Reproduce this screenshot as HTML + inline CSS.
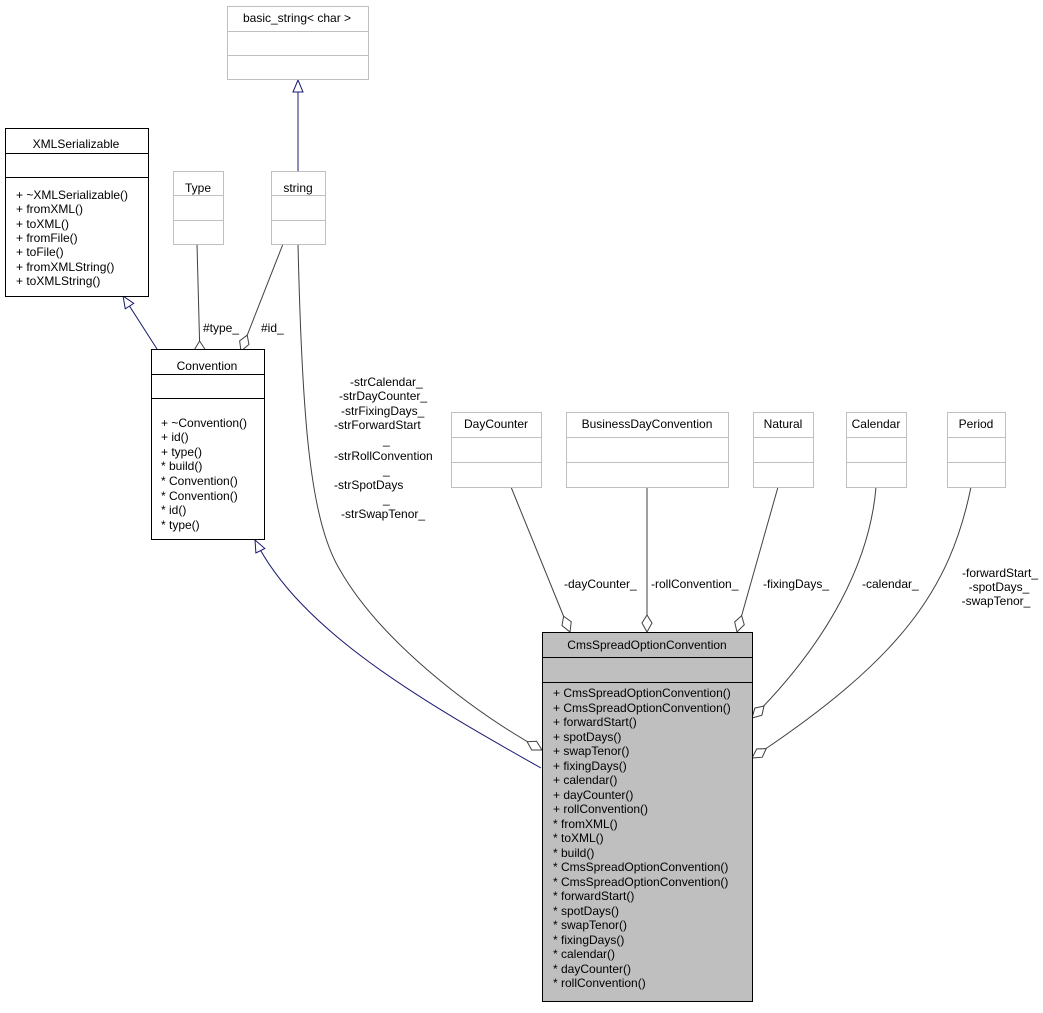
<!DOCTYPE html>
<html><head><meta charset="utf-8"><style>
body{margin:0;background:#fff}
svg text{font-family:"Liberation Sans",sans-serif;font-size:12px;fill:#000}
</style></head><body>
<svg width="1043" height="1008" xmlns="http://www.w3.org/2000/svg">
<defs>
<marker id="tri" markerWidth="14" markerHeight="14" refX="13" refY="6" orient="auto" markerUnits="userSpaceOnUse"><path d="M1,1 L13,6 L1,11 Z" fill="#fff" stroke="#191970" stroke-width="1"/></marker>
<marker id="dia" markerWidth="20" markerHeight="12" refX="18" refY="6" orient="auto" markerUnits="userSpaceOnUse"><path d="M1,6 L9,1 L18,6 L9,11 Z" fill="#fff" stroke="#404040" stroke-width="1"/></marker>
</defs>
<g fill="none" stroke-width="1">
<line x1="298" y1="171" x2="298" y2="80" stroke="#191970" marker-end="url(#tri)"/>
<line x1="157" y1="349" x2="123" y2="296" stroke="#191970" marker-end="url(#tri)"/>
<path d="M541,768 C420,700 300,630 255,540" stroke="#191970" marker-end="url(#tri)"/>
<line x1="197" y1="244" x2="200" y2="358" stroke="#404040" marker-end="url(#dia)"/>
<line x1="283" y1="244" x2="241" y2="351" stroke="#404040" marker-end="url(#dia)"/>
<path d="M298,244 C302,420 310,520 340,570 C380,640 470,710 542,750" stroke="#404040" marker-end="url(#dia)"/>
<line x1="511" y1="487" x2="570" y2="632" stroke="#404040" marker-end="url(#dia)"/>
<line x1="647" y1="487" x2="647" y2="632" stroke="#404040" marker-end="url(#dia)"/>
<line x1="778" y1="487" x2="737" y2="632" stroke="#404040" marker-end="url(#dia)"/>
<path d="M876,487 C870,560 830,640 752,718" stroke="#404040" marker-end="url(#dia)"/>
<path d="M971,487 C950,590 900,660 752,758" stroke="#404040" marker-end="url(#dia)"/>
</g>
<g fill="#fff" stroke="#bfbfbf">
<rect x="227.5" y="6.5" width="141" height="73"/><line x1="227" y1="31.5" x2="368" y2="31.5"/><line x1="227" y1="55.5" x2="368" y2="55.5"/>
<rect x="173.5" y="171.5" width="50" height="73"/><line x1="173" y1="195.5" x2="223" y2="195.5"/><line x1="173" y1="220.5" x2="223" y2="220.5"/>
<rect x="271.5" y="171.5" width="54" height="73"/><line x1="271" y1="195.5" x2="325" y2="195.5"/><line x1="271" y1="220.5" x2="325" y2="220.5"/>
<rect x="451.5" y="412.5" width="90" height="75"/><line x1="451" y1="437.5" x2="541" y2="437.5"/><line x1="451" y1="462.5" x2="541" y2="462.5"/>
<rect x="566.5" y="412.5" width="162" height="75"/><line x1="566" y1="437.5" x2="728" y2="437.5"/><line x1="566" y1="462.5" x2="728" y2="462.5"/>
<rect x="753.5" y="412.5" width="60" height="75"/><line x1="753" y1="437.5" x2="813" y2="437.5"/><line x1="753" y1="462.5" x2="813" y2="462.5"/>
<rect x="846.5" y="412.5" width="60" height="75"/><line x1="846" y1="437.5" x2="906" y2="437.5"/><line x1="846" y1="462.5" x2="906" y2="462.5"/>
<rect x="947.5" y="412.5" width="58" height="75"/><line x1="947" y1="437.5" x2="1005" y2="437.5"/><line x1="947" y1="462.5" x2="1005" y2="462.5"/>
</g>
<g fill="#fff" stroke="#000">
<rect x="5.5" y="128.5" width="143" height="168"/><line x1="5" y1="153.5" x2="148" y2="153.5"/><line x1="5" y1="177.5" x2="148" y2="177.5"/>
<rect x="151.5" y="349.5" width="113" height="190"/><line x1="151" y1="374.5" x2="264" y2="374.5"/><line x1="151" y1="398.5" x2="264" y2="398.5"/>
<rect x="542.5" y="632.5" width="210" height="369" fill="#bfbfbf"/><line x1="542" y1="657.5" x2="752" y2="657.5"/><line x1="542" y1="682.5" x2="752" y2="682.5"/>
</g>
<g text-anchor="middle">
<text x="297" y="22">basic_string&lt; char &gt;</text>
<text x="198" y="192">Type</text>
<text x="298" y="192">string</text>
<text x="76" y="148">XMLSerializable</text>
<text x="207" y="376" dy="-6">Convention</text>
<text x="496" y="428">DayCounter</text>
<text x="647" y="428">BusinessDayConvention</text>
<text x="783" y="428">Natural</text>
<text x="876" y="428">Calendar</text>
<text x="976" y="428">Period</text>
<text x="647" y="649">CmsSpreadOptionConvention</text>
<text x="1000" y="577">-forwardStart_</text>
<text x="999" y="591">-spotDays_</text>
<text x="996" y="605">-swapTenor_</text>
</g>
<g>
<text x="16" y="199">+ ~XMLSerializable()</text>
<text x="16" y="213">+ fromXML()</text>
<text x="16" y="228">+ toXML()</text>
<text x="16" y="242">+ fromFile()</text>
<text x="16" y="256">+ toFile()</text>
<text x="16" y="271">+ fromXMLString()</text>
<text x="16" y="285">+ toXMLString()</text>
<text x="161" y="427">+ ~Convention()</text>
<text x="161" y="441">+ id()</text>
<text x="161" y="456">+ type()</text>
<text x="161" y="470">* build()</text>
<text x="161" y="485">* Convention()</text>
<text x="161" y="500">* Convention()</text>
<text x="161" y="514">* id()</text>
<text x="161" y="529">* type()</text>
<text x="203" y="332">#type_</text>
<text x="261" y="332">#id_</text>
<text x="350" y="386">-strCalendar_</text>
<text x="339" y="400">-strDayCounter_</text>
<text x="341" y="415">-strFixingDays_</text>
<text x="334" y="429">-strForwardStart</text>
<text x="383" y="444">_</text>
<text x="334" y="460">-strRollConvention</text>
<text x="383" y="474">_</text>
<text x="334" y="489">-strSpotDays</text>
<text x="383" y="503">_</text>
<text x="341" y="518">-strSwapTenor_</text>
<text x="564" y="588">-dayCounter_</text>
<text x="651" y="588">-rollConvention_</text>
<text x="763" y="588">-fixingDays_</text>
<text x="862" y="588">-calendar_</text>
</g>
<g>
<text x="553" y="697">+ CmsSpreadOptionConvention()</text>
<text x="553" y="712">+ CmsSpreadOptionConvention()</text>
<text x="553" y="726">+ forwardStart()</text>
<text x="553" y="741">+ spotDays()</text>
<text x="553" y="755">+ swapTenor()</text>
<text x="553" y="770">+ fixingDays()</text>
<text x="553" y="784">+ calendar()</text>
<text x="553" y="799">+ dayCounter()</text>
<text x="553" y="813">+ rollConvention()</text>
<text x="553" y="828">* fromXML()</text>
<text x="553" y="842">* toXML()</text>
<text x="553" y="857">* build()</text>
<text x="553" y="871">* CmsSpreadOptionConvention()</text>
<text x="553" y="886">* CmsSpreadOptionConvention()</text>
<text x="553" y="900">* forwardStart()</text>
<text x="553" y="915">* spotDays()</text>
<text x="553" y="929">* swapTenor()</text>
<text x="553" y="944">* fixingDays()</text>
<text x="553" y="958">* calendar()</text>
<text x="553" y="973">* dayCounter()</text>
<text x="553" y="987">* rollConvention()</text>
</g>
</svg>
</body></html>
